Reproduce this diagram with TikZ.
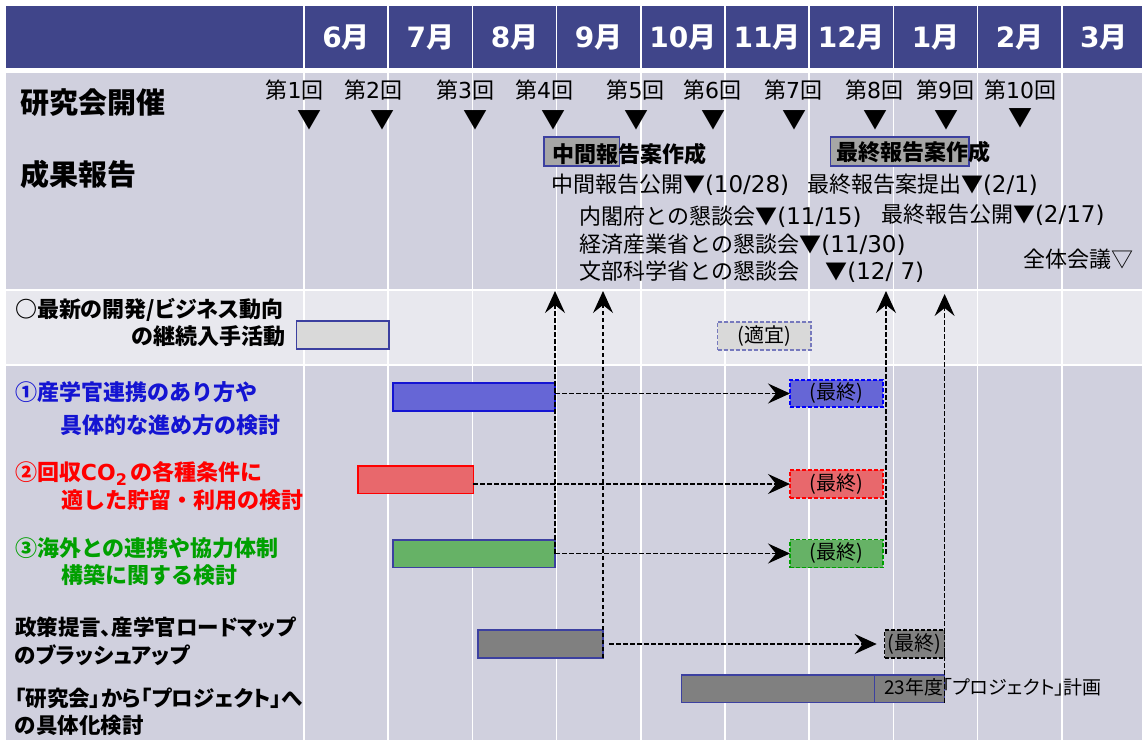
\documentclass[tikz,border=0pt]{standalone}
\usepackage{fontspec}
\setmainfont{Noto Sans CJK JP}
\newfontfamily\jpp{Noto Sans CJK JP}[RawFeature=+palt]
\newfontfamily\lat{DejaVu Sans}
\newcommand\ltx[2]{{\lat\fontsize{#1}{#1}\selectfont #2}}
\usetikzlibrary{arrows.meta}
\definecolor{hdr}{RGB}{64,69,138}
\definecolor{rowa}{RGB}{208,208,222}
\definecolor{rowb}{RGB}{232,232,238}
\definecolor{tblue}{RGB}{20,20,210}
\definecolor{tred}{RGB}{255,0,0}
\definecolor{tgreen}{RGB}{0,160,0}
\definecolor{bblue}{RGB}{102,102,214}
\definecolor{bred}{RGB}{232,104,108}
\definecolor{bgreen}{RGB}{102,178,102}
\definecolor{bgray}{RGB}{128,128,128}
\definecolor{blight}{RGB}{217,217,217}
\definecolor{edge}{RGB}{60,64,160}
\definecolor{boxg}{RGB}{166,166,166}
\begin{document}
\begin{tikzpicture}[x=1pt,y=-1pt,
  every node/.style={inner sep=0pt,outer sep=0pt},
  mon/.style={text=white,font=\fontsize{28}{30}\selectfont\bfseries},
  head/.style={anchor=west,font=\fontsize{29}{31}\selectfont\bfseries},
  kai/.style={font=\fontsize{22}{24}\selectfont},
  tri/.style={font=\fontsize{24}{26}\selectfont},
  note/.style={anchor=west,font=\fontsize{22}{24}\selectfont},
  lbl/.style={anchor=west,font=\fontsize{22}{24}\selectfont\bfseries},
  plbl/.style={anchor=west,font=\jpp\fontsize{21.5}{24}\selectfont\bfseries},
  bar/.style={draw=edge,line width=1.2pt,anchor=north west,minimum height=28pt},
  fin/.style={bar,dash pattern=on 4pt off 2pt,font=\fontsize{20}{22}\selectfont},
  darr/.style={line width=1.4pt,dash pattern=on 4.5pt off 2.5pt,-{Stealth[length=22pt,width=20pt,inset=8pt]}}
]
\useasboundingbox (0,0) rectangle (1142,740);
\fill[white] (0,0) rectangle (1142,740);
% backgrounds
\fill[hdr] (6,6) rectangle (1142,68);
\fill[rowa] (6,73) rectangle (1142,289);
\fill[rowb] (6,290.5) rectangle (1142,364);
\fill[rowa] (6,365.5) rectangle (1142,740);
\foreach \i in {0,...,9} \draw[white,line width=1.5pt] ({304+84.2*\i},6) -- ({304+84.2*\i},740);
% months
\foreach \d [count=\i from 0] in {6,7,8,9,10,11,12,1,2,3}
  \node[mon] (m\i) at ({346.1+84.2*\i},37) {{\lat\bfseries\d}月};
% row titles
\node[head] (t1) at (20,103) {研究会開催};
\node[head] (t2) at (20,174) {成果報告};
% meetings
\node[kai] (k1) at (294.5,90) {第\ltx{22}{1}回};
\node[kai] (k2) at (373,90) {第\ltx{22}{2}回};
\node[kai] (k3) at (465,90) {第\ltx{22}{3}回};
\node[kai] (k4) at (544,90) {第\ltx{22}{4}回};
\node[kai] (k5) at (635.6,90) {第\ltx{22}{5}回};
\node[kai] (k6) at (712,90) {第\ltx{22}{6}回};
\node[kai] (k7) at (793,90) {第\ltx{22}{7}回};
\node[kai] (k8) at (874,90) {第\ltx{22}{8}回};
\node[kai] (k9) at (945,90) {第\ltx{22}{9}回};
\node[kai] (k10) at (1020,90) {第\ltx{22}{10}回};
\node[tri] (v1) at (309,120) {▼};
\node[tri] (v2) at (382,120) {▼};
\node[tri] (v3) at (475,120) {▼};
\node[tri] (v4) at (553,120) {▼};
\node[tri] (v5) at (636,120) {▼};
\node[tri] (v6) at (713.5,120) {▼};
\node[tri] (v7) at (794,120) {▼};
\node[tri] (v8) at (875,120) {▼};
\node[tri] (v9) at (946,120) {▼};
\node[tri] (v10) at (1020,118) {▼};
% report boxes
\node[draw=edge,fill=boxg,line width=1.2pt,anchor=north west,minimum width=75.5pt,minimum height=29pt] (rb1) at (544,137) {};
\node[draw=edge,fill=boxg,line width=1.2pt,anchor=north west,minimum width=138.4pt,minimum height=29pt] (rb2) at (830.6,137) {};
\node[lbl] (rt1) at (552,154) {中間報告案作成};
\node[lbl] (rt2) at (836,152) {最終報告案作成};
% notes
\node[note] (n1) at (551,185) {中間報告公開▼\ltx{23}{(10/28)}};
\node[note] (n2) at (807,185) {最終報告案提出▼\ltx{23}{(2/1)}};
\node[note] (n3) at (579.5,217) {内閣府との懇談会▼\ltx{23}{(11/15)}};
\node[note] (n4) at (881,215) {最終報告公開▼\ltx{23}{(2/17)}};
\node[note] (n5) at (579.5,245) {経済産業省との懇談会▼\ltx{23}{(11/30)}};
\node[note] (n6) at (579.5,272) {文部科学省との懇談会\hspace{26pt}▼\ltx{23}{(12/ 7)}};
\node[note] (n7) at (1023,259) {全体会議▽};
% task labels
\node[plbl,font=\jpp\fontsize{22}{24}\selectfont\bfseries] (L1a) at (15,310) {○最新の開発/ビジネス動向};
\node[plbl,font=\jpp\fontsize{22}{24}\selectfont\bfseries,anchor=east] (L1b) at (285,336) {の継続入手活動};
\node[lbl,text=tblue] (L2a) at (15,392) {①産学官連携のあり方や};
\node[lbl,text=tblue] (L2b) at (60.5,425) {具体的な進め方の検討};
\node[lbl,text=tred] (L3a) at (15,473) {②回収\ltx{22}{\bfseries CO}\raisebox{-5pt}{\ltx{16}{\bfseries 2}}\,の各種条件に};
\node[lbl,text=tred] (L3b) at (61,500) {適した貯留・利用の検討};
\node[lbl,text=tgreen] (L4a) at (15,548) {③海外との連携や協力体制};
\node[lbl,text=tgreen] (L4b) at (61,575) {構築に関する検討};
\node[plbl] (L5a) at (15,627) {政策提言、産学官ロードマップ};
\node[plbl] (L5b) at (15,655) {のブラッシュアップ};
\node[plbl] (L6a) at (15,698) {「研究会」から「プロジェクト」へ};
\node[plbl] (L6b) at (15,725) {の具体化検討};
% bars
\node[bar,fill=blight,minimum width=92.4pt] (a1) at (296.6,321) {};
\node[fin,fill=blight,draw=edge!70,minimum width=93.3pt] (af) at (717.7,322) {(適宜)};
\node[bar,fill=bblue,draw=tblue,minimum width=162pt] (b1) at (393,383) {};
\node[fin,fill=bblue,draw=blue,minimum width=93pt,minimum height=27pt] (bf) at (790,380) {(最終)};
\node[bar,fill=bred,draw=red,minimum width=115.4pt,minimum height=27.3pt] (r1) at (358,466) {};
\node[fin,fill=bred,draw=red,minimum width=93pt] (rf) at (790,470) {(最終)};
\node[bar,fill=bgreen,minimum width=162pt,minimum height=27.3pt] (g1) at (393,540) {};
\node[fin,fill=bgreen,draw=tgreen,minimum width=93pt] (gf) at (790,539.5) {(最終)};
\node[bar,fill=bgray,minimum width=125pt] (p1) at (478,630) {};
\node[fin,fill=bgray,draw=black,minimum width=60pt] (pf) at (884.7,630) {(最終)};
\node[bar,fill=bgray,minimum width=193.1pt,minimum height=27.7pt] (q1) at (681.6,675) {};
\node[bar,fill=bgray,minimum width=69.9pt,minimum height=27.7pt] (q2) at (874.7,675) {};
\node[anchor=west,font=\jpp\fontsize{19}{22}\selectfont] (qt) at (884,687) {23年度「プロジェクト」計画};
% connectors
\coordinate (top1) at (0,291);
\coordinate (top2) at (0,294);
\draw[darr] (bf.west -| b1.east) -- (bf.west);
\draw[darr] (rf.west -| r1.east) -- (rf.west);
\draw[darr] (gf.west -| g1.east) -- (gf.west);
\draw[darr,shorten <=6pt,shorten >=8pt] (pf.west -| p1.east) -- (pf.west);
\draw[darr] (g1.east) -- (g1.east |- top1);
\draw[darr] (p1.south east) -- (p1.south east |- top1);
\draw[darr] ([xshift=3pt]gf.east) -- ([xshift=3pt]gf.east |- top1);
\draw[darr] (q2.south east) -- (q2.south east |- top2);
\end{tikzpicture}
\end{document}
